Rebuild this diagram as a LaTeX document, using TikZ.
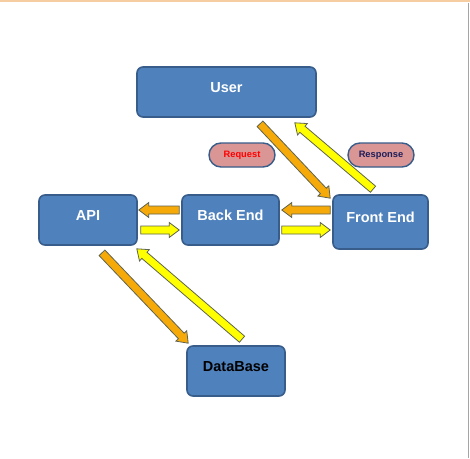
\documentclass[tikz,border=0pt]{standalone}
\usepackage{fontspec}
\setmainfont{Liberation Sans}
\usetikzlibrary{calc,shapes.misc}

\definecolor{boxblue}{RGB}{79,129,189}
\definecolor{boxedge}{RGB}{56,93,138}
\definecolor{pillpink}{RGB}{217,150,148}
\definecolor{darrow}{RGB}{245,170,10}
\definecolor{yarrow}{RGB}{255,255,0}
\definecolor{arrowedge}{RGB}{95,100,80}
\definecolor{navytext}{RGB}{30,30,90}
\definecolor{topline}{RGB}{245,205,160}
\definecolor{sideline}{RGB}{165,165,165}

\tikzset{
  box/.style={rectangle, rounded corners=6pt, draw=boxedge, line width=1.6pt,
    fill=boxblue, text=white, font=\bfseries\fontsize{14.5}{16}\selectfont,
    text height=10pt, text depth=10pt, inner sep=0pt},
  pill/.style={rounded rectangle, draw=boxedge, line width=1.4pt, fill=pillpink,
    minimum width=66pt, minimum height=24pt, inner sep=0pt,
    font=\bfseries\fontsize{9.3}{11}\selectfont},
  arrowline/.style={draw=arrowedge, line width=0.8pt, line join=miter}
}

\newcommand{\blockarrow}[4]{%
  \coordinate (#1h) at ($(#4)!10pt!(#3)$);
  \filldraw[arrowline, fill=#2] ($(#3)!4pt!90:(#4)$) -- ($(#1h)!4pt!-90:(#3)$)
    -- ($(#1h)!7.5pt!-90:(#3)$) -- (#4) -- ($(#1h)!7.5pt!90:(#3)$)
    -- ($(#1h)!4pt!90:(#3)$) -- ($(#3)!4pt!-90:(#4)$) -- cycle;}

\begin{document}
\begin{tikzpicture}[x=1pt,y=-1pt]
  \useasboundingbox (0,0) rectangle (470,458);
  \fill[white] (0,0) rectangle (470,458);
  \draw[topline, line width=2.5pt] (0,1.2) -- (470,1.2);
  \draw[sideline, line width=1.5pt] (468.5,2.5) -- (468.5,458);

  \node[box, minimum width=179pt, minimum height=50pt] (user) at (226.5,92) {User};
  \node[box, minimum width=97pt, minimum height=50pt] (back) at (230.5,220) {Back End};
  \node[box, minimum width=95pt, minimum height=54pt] (front) at (380.5,222) {Front End};
  \node[box, minimum width=98pt, minimum height=50pt] (api) at (88,220) {API};
  \node[box, text=black, minimum width=98pt, minimum height=50pt] (db) at (236,371) {DataBase};

  \node[pill, text=red] (request) at (242,155) {Request};
  \node[pill, text=navytext] (response) at (381,155) {Response};

  \coordinate (uf1) at ($(user.south)+(33.5,6)$);
  \coordinate (uf2) at ($(front.north west)+(-2,4)$);
  \coordinate (fu1) at ($(front.north)+(-7.5,-5)$);
  \coordinate (fu2) at ($(user.south east)+(-22,5)$);
  \coordinate (fb1) at ($(front.west)+(-2,-12)$);
  \coordinate (fb2) at ($(back.east)+(2,-10)$);
  \coordinate (bf1) at ($(back.east)+(2,10)$);
  \coordinate (bf2) at ($(front.west)+(-2,8)$);
  \coordinate (ba1) at ($(back.west)+(-2,-10)$);
  \coordinate (ba2) at ($(api.east)+(1,-10)$);
  \coordinate (ab1) at ($(api.east)+(3,10)$);
  \coordinate (ab2) at ($(back.west)+(-2,10)$);
  \coordinate (ad1) at ($(api.south)+(14,7)$);
  \coordinate (ad2) at ($(db.north west)+(2,-2)$);
  \coordinate (da1) at ($(db.north)+(6,-6)$);
  \coordinate (da2) at ($(api.south east)+(-1,3)$);

  \blockarrow{a1}{darrow}{uf1}{uf2}
  \blockarrow{a2}{yarrow}{fu1}{fu2}
  \blockarrow{a3}{darrow}{fb1}{fb2}
  \blockarrow{a4}{yarrow}{bf1}{bf2}
  \blockarrow{a5}{darrow}{ba1}{ba2}
  \blockarrow{a6}{yarrow}{ab1}{ab2}
  \blockarrow{a7}{darrow}{ad1}{ad2}
  \blockarrow{a8}{yarrow}{da1}{da2}
\end{tikzpicture}
\end{document}
